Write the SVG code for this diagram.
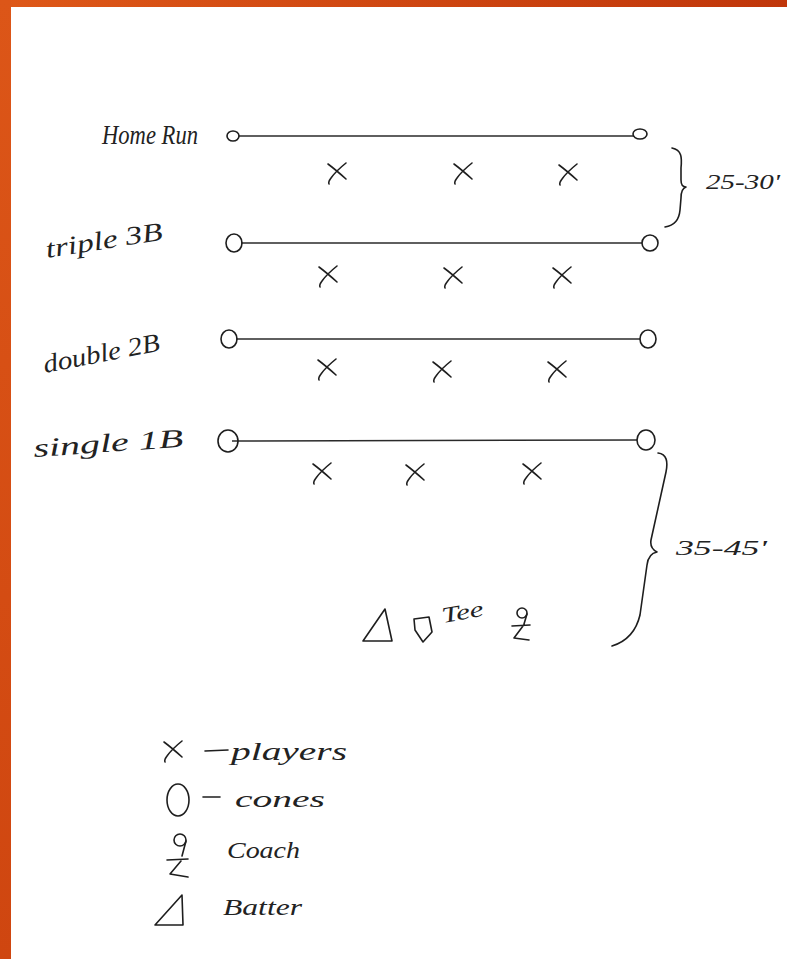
<svg xmlns="http://www.w3.org/2000/svg" xmlns:xlink="http://www.w3.org/1999/xlink" width="787" height="959" viewBox="0 0 787 959">
<defs>
<linearGradient id="og" x1="0" y1="0" x2="1" y2="0">
<stop offset="0" stop-color="#de5818"/>
<stop offset="1" stop-color="#c0360a"/>
</linearGradient>
<linearGradient id="ogv" x1="0" y1="0" x2="0" y2="1">
<stop offset="0" stop-color="#dc5618"/>
<stop offset="1" stop-color="#cf4610"/>
</linearGradient>
<g id="px"><path d="M-9,-8 Q-1,-2 9,7 M9,-9 Q-1,-1 -6,6 Q-9,10 -8,12"/></g>
</defs>
<style>
.ink{fill:none;stroke:#1e1e1e;stroke-width:1.6;stroke-linecap:round;stroke-linejoin:round}
.ln{fill:none;stroke:#2a2a2a;stroke-width:1.5}
.hw{font-family:"Liberation Serif","DejaVu Serif",serif;font-style:italic;fill:#222222}
</style>
<rect x="0" y="0" width="787" height="959" fill="#ffffff"/>
<rect x="0" y="0" width="787" height="7" fill="url(#og)"/>
<rect x="0" y="0" width="11" height="959" fill="url(#ogv)"/>

<g id="connectors">
<line class="ln" x1="239" y1="136" x2="634" y2="136"/>
<line class="ln" x1="241" y1="243" x2="642" y2="243"/>
<line class="ln" x1="236" y1="339" x2="640" y2="339"/>
<line class="ln" x1="232" y1="441" x2="637" y2="440"/>
</g>

<g id="labels">
<text class="hw" x="102" y="144" font-size="28" textLength="96" lengthAdjust="spacingAndGlyphs">Home Run</text>
<text class="hw" x="47" y="258" font-size="26" textLength="118" lengthAdjust="spacingAndGlyphs" transform="rotate(-9 47 258)">triple 3B</text>
<text class="hw" x="45" y="373" font-size="26" textLength="118" lengthAdjust="spacingAndGlyphs" transform="rotate(-11 45 373)">double 2B</text>
<text class="hw" x="34" y="457" font-size="26" textLength="150" lengthAdjust="spacingAndGlyphs" transform="rotate(-4 34 457)">single   1B</text>
</g>

<g id="cones">
<ellipse class="ink" cx="233" cy="136" rx="6" ry="5"/>
<ellipse class="ink" cx="640" cy="134" rx="7" ry="5"/>
<ellipse class="ink" cx="234" cy="243" rx="8" ry="9"/>
<ellipse class="ink" cx="650" cy="243" rx="8" ry="8"/>
<ellipse class="ink" cx="229" cy="339" rx="8" ry="9"/>
<ellipse class="ink" cx="648" cy="339" rx="8" ry="9"/>
<ellipse class="ink" cx="228" cy="441" rx="10" ry="11"/>
<ellipse class="ink" cx="646" cy="440" rx="9" ry="10"/>
</g>

<g id="players" class="ink">
<use xlink:href="#px" x="337" y="172"/>
<use xlink:href="#px" x="463" y="172"/>
<use xlink:href="#px" x="568" y="173"/>
<use xlink:href="#px" x="328" y="275"/>
<use xlink:href="#px" x="453" y="276"/>
<use xlink:href="#px" x="562" y="276"/>
<use xlink:href="#px" x="327" y="368"/>
<use xlink:href="#px" x="442" y="370"/>
<use xlink:href="#px" x="557" y="370"/>
<use xlink:href="#px" x="322" y="472"/>
<use xlink:href="#px" x="415" y="473"/>
<use xlink:href="#px" x="532" y="472"/>
</g>

<g id="brace-25-30">
<path class="ink" d="M672,148 C682,150 682,158 681,168 L681,180 C681,185 683,187 686,187 C683,188 681,192 681,198 L680,210 C679,222 672,226 665,227"/>
<text class="hw" x="706" y="189" font-size="22" textLength="74" lengthAdjust="spacingAndGlyphs">25-30'</text>
</g>

<g id="brace-35-45">
<path class="ink" d="M658,453 C667,454 668,462 666,472 L651,540 C650,546 653,550 657,552 C651,553 648,557 647,565 L640,615 C636,632 625,642 612,646"/>
<text class="hw" x="676" y="555" font-size="22" textLength="91" lengthAdjust="spacingAndGlyphs">35-45'</text>
</g>

<g id="batter">
<path class="ink" d="M363,641 L392,641 L385,609 Z"/>
</g>
<g id="tee">
<path class="ink" d="M414,619 L429,617 L432,632 L423,642 L415,630 Z"/>
<text class="hw" x="443" y="623" font-size="22" textLength="42" lengthAdjust="spacingAndGlyphs" transform="rotate(-10 443 623)">Tee</text>
</g>
<g id="coach" class="ink">
<circle cx="522" cy="613" r="5"/>
<path d="M527,614 L524,624 M512,626 L530,625 M523,626 L514,638 L529,640"/>
</g>

<g id="legend">
<g id="legend-players">
<use class="ink" xlink:href="#px" x="173" y="750"/>
<line class="ink" x1="205" y1="751" x2="228" y2="750"/>
<text class="hw" x="231" y="760" font-size="26" textLength="116" lengthAdjust="spacingAndGlyphs">players</text>
</g>
<g id="legend-cones">
<ellipse class="ink" cx="178" cy="800" rx="11" ry="16"/>
<line class="ink" x1="203" y1="797" x2="220" y2="797"/>
<text class="hw" x="235" y="807" font-size="24" textLength="90" lengthAdjust="spacingAndGlyphs">cones</text>
</g>
<g id="legend-coach" class="ink">
<circle cx="180" cy="840" r="6"/>
<path d="M186,841 L182,856 M167,860 L188,859 M181,861 L170,874 L188,877"/>
</g>
<text class="hw" x="227" y="858" font-size="24" textLength="73" lengthAdjust="spacingAndGlyphs">Coach</text>
<g id="legend-batter">
<path class="ink" d="M155,925 L183,925 L182,895 Z"/>
<text class="hw" x="223" y="915" font-size="24" textLength="79" lengthAdjust="spacingAndGlyphs">Batter</text>
</g>
</g>
</svg>
